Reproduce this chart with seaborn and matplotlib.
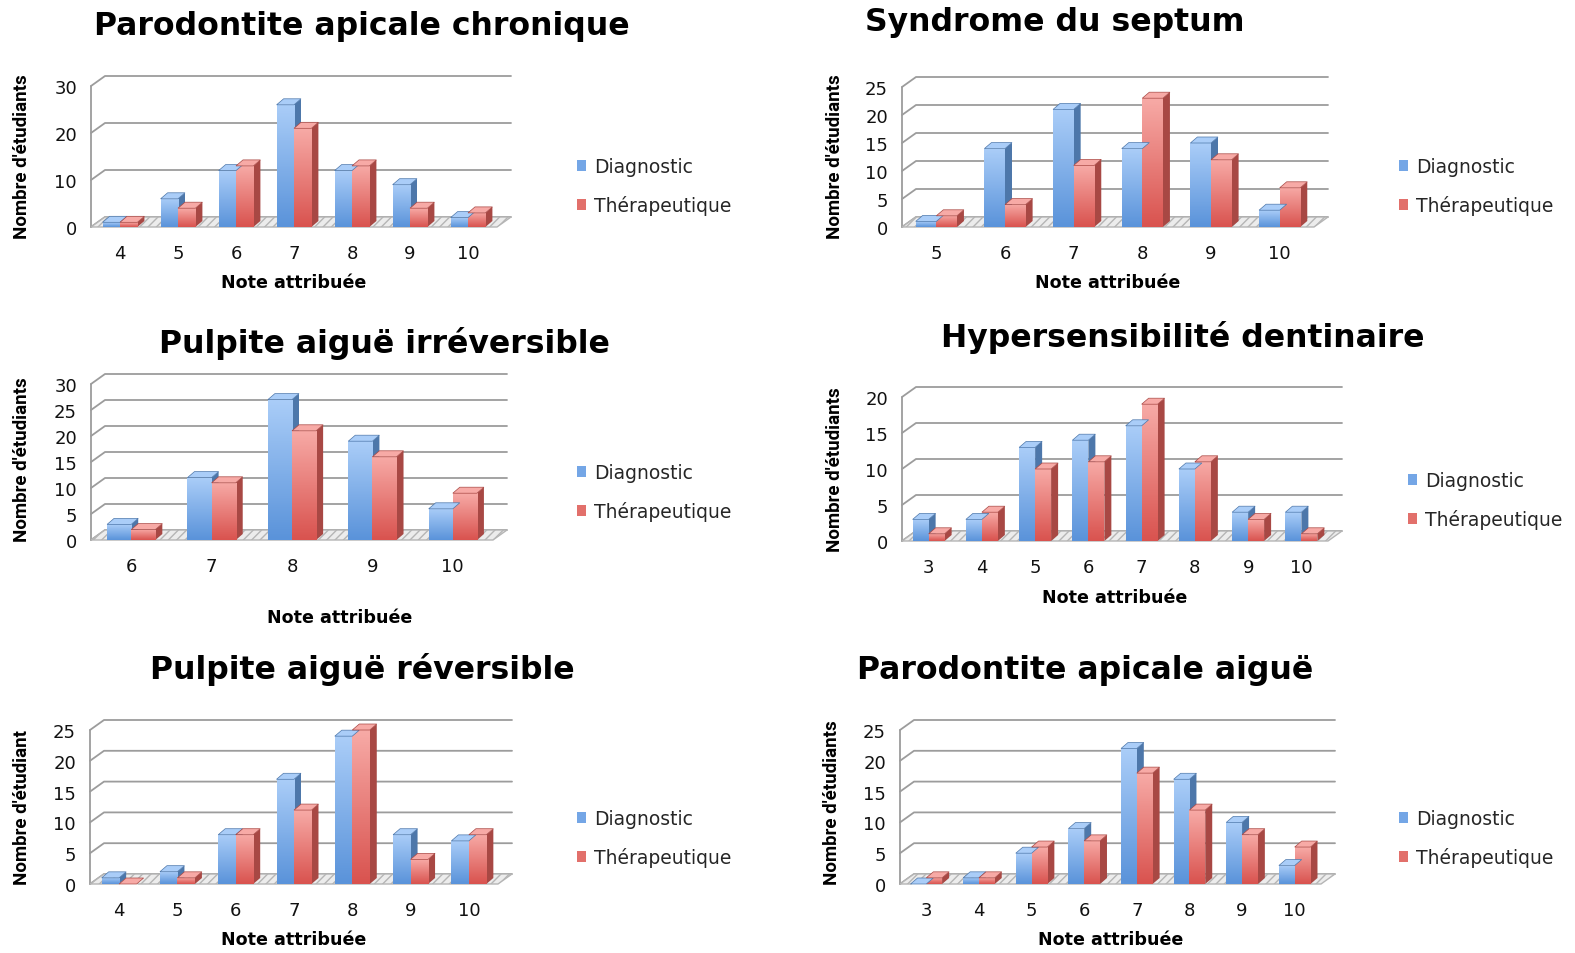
import numpy as np
import pandas as pd
import seaborn as sns
import matplotlib
matplotlib.use("Agg")
import matplotlib.pyplot as plt
from matplotlib.patches import Polygon, Rectangle
from matplotlib.colors import LinearSegmentedColormap

sns.set_theme(style="white")
plt.rcParams["font.family"] = ["DejaVu Sans"]

W, H = 1575, 954
series = ["Diagnostic", "Thérapeutique"]

# ---- data ----
title_1 = "Parodontite apicale chronique"
notes_1 = [4, 5, 6, 7, 8, 9, 10]
diag_1 = [1, 6, 12, 26, 12, 9, 2]
ther_1 = [1, 4, 13, 21, 13, 4, 3]
yticks_1 = [0, 10, 20, 30]

title_2 = "Syndrome du septum"
notes_2 = [5, 6, 7, 8, 9, 10]
diag_2 = [1, 14, 21, 14, 15, 3]
ther_2 = [2, 4, 11, 23, 12, 7]
yticks_2 = [0, 5, 10, 15, 20, 25]

title_3 = "Pulpite aiguë irréversible"
notes_3 = [6, 7, 8, 9, 10]
diag_3 = [3, 12, 27, 19, 6]
ther_3 = [2, 11, 21, 16, 9]
yticks_3 = [0, 5, 10, 15, 20, 25, 30]

title_4 = "Hypersensibilité dentinaire"
notes_4 = [3, 4, 5, 6, 7, 8, 9, 10]
diag_4 = [3, 3, 13, 14, 16, 10, 4, 4]
ther_4 = [1, 4, 10, 11, 19, 11, 3, 1]
yticks_4 = [0, 5, 10, 15, 20]

title_5 = "Pulpite aiguë réversible"
notes_5 = [4, 5, 6, 7, 8, 9, 10]
diag_5 = [1, 2, 8, 17, 24, 8, 7]
ther_5 = [0, 1, 8, 12, 25, 4, 8]
yticks_5 = [0, 5, 10, 15, 20, 25]

title_6 = "Parodontite apicale aiguë"
notes_6 = [3, 4, 5, 6, 7, 8, 9, 10]
diag_6 = [0, 1, 5, 9, 22, 17, 10, 3]
ther_6 = [1, 1, 6, 7, 18, 12, 8, 6]
yticks_6 = [0, 5, 10, 15, 20, 25]

xlabel = "Note attribuée"
ylabels = ["Nombre d'étudiants"] * 4 + ["Nombre d'étudiant", "Nombre d'étudiants"]

# ---- layout (pixels) ----
panels = [
    dict(t=title_1, n=notes_1, d=diag_1, r=ther_1, yt=yticks_1,
         ax=(91, 497, 228, 87), tp=(362, 27), xl=(294, 283), yl=(22, 157), lg=(577, 187)),
    dict(t=title_2, n=notes_2, d=diag_2, r=ther_2, yt=yticks_2,
         ax=(902, 1314, 228, 88), tp=(1055, 22), xl=(1108, 283), yl=(835, 157), lg=(1399, 187)),
    dict(t=title_3, n=notes_3, d=diag_3, r=ther_3, yt=yticks_3,
         ax=(91, 493, 541, 385), tp=(384, 343), xl=(340, 618), yl=(22, 460), lg=(577, 493)),
    dict(t=title_4, n=notes_4, d=diag_4, r=ther_4, yt=yticks_4,
         ax=(902, 1328, 542, 398), tp=(1183, 338), xl=(1115, 598), yl=(835, 470), lg=(1408, 501)),
    dict(t=title_5, n=notes_5, d=diag_5, r=ther_5, yt=yticks_5,
         ax=(90, 498, 885, 731), tp=(362, 670), xl=(294, 940), yl=(22, 808), lg=(577, 839)),
    dict(t=title_6, n=notes_6, d=diag_6, r=ther_6, yt=yticks_6,
         ax=(900, 1321, 885, 731), tp=(1085, 670), xl=(1111, 940), yl=(832, 803), lg=(1399, 839)),
]

blue = "#74a6e6"
red = "#e2706b"
grad = {
    "blue": (["#5a93da", "#aacdf8"], "#4d77aa"),
    "red": (["#d9534f", "#f7aaa6"], "#a84844"),
}

fig = plt.figure(figsize=(W / 100, H / 100), dpi=100)
fig.patch.set_facecolor("white")

narrow = ["Roboto", "DejaVu Sans"]

for i, p in enumerate(panels):
    l, r, y0, yt = p["ax"]
    ax = fig.add_axes([l / W, 1 - y0 / H, (r - l) / W, (y0 - yt) / H])
    n = len(p["n"])
    order = [str(v) for v in p["n"]]
    df = pd.DataFrame({
        "Note": order * 2,
        "Valeur": p["d"] + p["r"],
        "Type": [series[0]] * n + [series[1]] * n,
    })
    sns.barplot(data=df, x="Note", y="Valeur", hue="Type", order=order,
                hue_order=series, palette={series[0]: blue, series[1]: red},
                width=0.6, gap=0, saturation=1, legend=False, ax=ax, zorder=3)
    ymax = p["yt"][-1]
    xlo, xhi = -0.5, n - 0.5
    ax.set_xlim(xlo, xhi)
    ax.set_ylim(0, ymax)
    sx = (xhi - xlo) / (r - l)
    sy = ymax / (y0 - yt)

    # wall grid lines and floor
    gdx, gdy = 14 * sx, 10 * sy
    for tval in p["yt"]:
        ax.plot([xlo, xlo + gdx, xhi + gdx], [tval, tval + gdy, tval + gdy],
                color="#9c9c9c", lw=1.3, clip_on=False, zorder=1)
    ax.plot([xlo, xlo], [0, ymax], color="#9c9c9c", lw=1.3, clip_on=False, zorder=1)
    ax.add_patch(Polygon([(xlo, 0), (xhi, 0), (xhi + gdx, gdy), (xlo + gdx, gdy)],
                         closed=True, facecolor="#ececec", edgecolor="#b5b5b5",
                         lw=1, hatch="////", clip_on=False, zorder=2))

    # pseudo-3D bars with gradient
    bdx, bdy = 7 * sx, 6 * sy
    bars = [pt for pt in ax.patches if isinstance(pt, Rectangle)]
    for pt in bars:
        x, w, h = pt.get_x(), pt.get_width(), pt.get_height()
        fc = pt.get_facecolor()
        key = "blue" if fc[2] > fc[0] else "red"
        cols, side = grad[key]
        pt.set_clip_on(False)
        ax.add_patch(Polygon([(x + w, 0), (x + w, h), (x + w + bdx, h + bdy), (x + w + bdx, bdy)],
                             closed=True, facecolor=side, edgecolor="none",
                             clip_on=False, zorder=3))
        ax.add_patch(Polygon([(x, h), (x + w, h), (x + w + bdx, h + bdy), (x + bdx, h + bdy)],
                             closed=True, facecolor=cols[1], edgecolor=side, lw=0.5,
                             clip_on=False, zorder=3.5))
        if h > 0:
            cmap = LinearSegmentedColormap.from_list(key, cols)
            im = ax.imshow(np.linspace(0, 1, 64).reshape(-1, 1), extent=[x, x + w, 0, h],
                           origin="lower", aspect="auto", cmap=cmap, zorder=3.2)
            im.set_clip_path(pt)
            im.set_clip_on(True)
            pt.set_facecolor("none")
            pt.set_edgecolor("none")
            pt.set_zorder(3.1)
    ax.set_xlim(xlo, xhi)
    ax.set_ylim(0, ymax)

    for s in ax.spines.values():
        s.set_visible(False)
    ax.set_yticks(p["yt"])
    ax.set_yticklabels([str(v) for v in p["yt"]])
    ax.tick_params(axis="y", length=0, pad=10, labelsize=13, labelcolor="#111111")
    ax.tick_params(axis="x", length=0, pad=12, labelsize=13, labelcolor="#111111")
    ax.set_xlabel("")
    ax.set_ylabel("")
    ax.grid(False)
    ax.set_facecolor("none")

    fig.text(p["tp"][0] / W, 1 - p["tp"][1] / H, p["t"], ha="center", va="center",
             fontsize=22.7, fontweight="bold", color="black")
    fig.text(p["xl"][0] / W, 1 - p["xl"][1] / H, xlabel, ha="center", va="center",
             fontsize=12.6, fontweight="bold", color="black")
    fig.text(p["yl"][0] / W, 1 - p["yl"][1] / H, ylabels[i], ha="center", va="center",
             rotation=90, fontsize=13.5, fontweight="bold", family=narrow, color="black")

    handles = [Rectangle((0, 0), 1, 1, facecolor=blue, edgecolor="none"),
               Rectangle((0, 0), 1, 1, facecolor=red, edgecolor="none")]
    ax.legend(handles, series, loc="center left",
              bbox_to_anchor=(p["lg"][0] / W, 1 - p["lg"][1] / H),
              bbox_transform=fig.transFigure, frameon=False, fontsize=13.5,
              handlelength=0.5, handleheight=0.5, handletextpad=0.4,
              labelspacing=1.0, borderaxespad=0, borderpad=0)

fig.savefig("out.png", dpi=100, facecolor="white")
